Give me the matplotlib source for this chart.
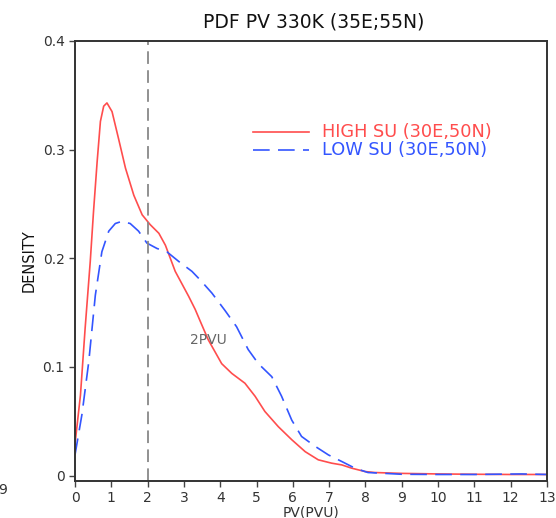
import matplotlib
matplotlib.use("Agg")
import matplotlib.pyplot as plt

# HIGH SU (30E,50N)
high_x = [0.0, 0.15, 0.28, 0.42, 0.51, 0.61, 0.70, 0.79, 0.88, 1.02, 1.20, 1.39, 1.62,
          1.85, 2.07, 2.31, 2.49, 2.76, 3.13, 3.31, 3.45, 3.67, 4.04, 4.32, 4.68, 4.96,
          5.23, 5.60, 5.97, 6.34, 6.70, 7.07, 7.35, 7.62, 7.99, 8.26, 9.0, 10.0, 11.0,
          12.0, 13.0]
high_y = [0.029, 0.074, 0.136, 0.197, 0.243, 0.289, 0.326, 0.340, 0.343, 0.335, 0.310,
          0.283, 0.258, 0.240, 0.231, 0.223, 0.212, 0.188, 0.165, 0.153, 0.142, 0.125,
          0.103, 0.094, 0.085, 0.073, 0.059, 0.045, 0.033, 0.022, 0.0145, 0.0114,
          0.0098, 0.0068, 0.0037, 0.0028, 0.002, 0.0015, 0.0012, 0.001, 0.001]

# LOW SU (30E,50N)
low_x = [0.0, 0.19, 0.38, 0.56, 0.74, 0.93, 1.11, 1.29, 1.52, 1.75, 1.98, 2.26, 2.53,
         2.86, 3.22, 3.45, 3.77, 4.13, 4.45, 4.77, 5.05, 5.42, 5.69, 5.97, 6.24, 6.61,
         6.98, 7.35, 7.71, 8.07, 9.0, 10.0, 11.0, 12.3, 13.0]
low_y = [0.019, 0.056, 0.105, 0.166, 0.206, 0.225, 0.232, 0.234, 0.232, 0.225, 0.214,
         0.209, 0.206, 0.197, 0.188, 0.180, 0.168, 0.152, 0.137, 0.116, 0.103, 0.091,
         0.073, 0.051, 0.036, 0.027, 0.019, 0.0129, 0.0068, 0.0028, 0.0012, 0.001,
         0.001, 0.0015, 0.001]

series_labels = ["HIGH SU (30E,50N)", "LOW SU (30E,50N)"]
xticks = list(range(0, 14))
yticks = [0, 0.1, 0.2, 0.3, 0.4]
ytick_labels = ["0", "0.1", "0.2", "0.3", "0.4"]

fig = plt.figure(figsize=(5.56, 5.18), dpi=100)
ax = fig.add_axes([75/556, 1-481/518, (547-75)/556, (481-41)/518])

red = "#ff4d4d"
blue = "#3355ff"
txtc = "#333333"

ax.plot(high_x, high_y, color=red, lw=1.2)
ax.plot(low_x, low_y, color=blue, lw=1.2, dashes=(10, 5))
ax.axvline(2, color="#888888", lw=1.3, dashes=(7, 3.5))
ax.text(3.67, 0.1245, "2PVU", color="#666666", fontsize=10, ha="center", va="center")

ax.set_xlim(0, 13)
ax.set_ylim(-0.005, 0.4)
ax.set_xticks(xticks)
ax.set_xticklabels([str(t) for t in xticks])
ax.set_yticks(yticks)
ax.set_yticklabels(ytick_labels)
ax.tick_params(direction="out", length=4, width=1, colors="#444444",
               labelcolor=txtc, labelsize=10)
for s in ax.spines.values():
    s.set_color("#333333")
    s.set_linewidth(1.4)

ax.set_xlabel("PV(PVU)", fontsize=10, color=txtc, labelpad=0)
ax.set_ylabel("DENSITY", fontsize=10.5, color="#111111", labelpad=4)
fig.text(0.565, 1-22/518, "PDF PV 330K (35E;55N)", ha="center", va="center",
         fontsize=13.5, color="#111111")

# legend drawn in axes coordinates
x0, x1, xt = (253-75)/472, (309-75)/472, (322-75)/472
for yy, c, lab, kw in [((481-132)/440, red, series_labels[0], {}),
                       ((481-150)/440, blue, series_labels[1], {"dashes": (10, 5)})]:
    ax.plot([x0, x1], [yy, yy], color=c, lw=1.2, transform=ax.transAxes, **kw)
    ax.text(xt, yy, lab, color=c, fontsize=12.8, ha="left", va="center",
            transform=ax.transAxes)

fig.text(-0.004, 1-490/518, "9", fontsize=10, color=txtc, ha="left", va="center")

fig.savefig("out.png", dpi=100, facecolor="white")
